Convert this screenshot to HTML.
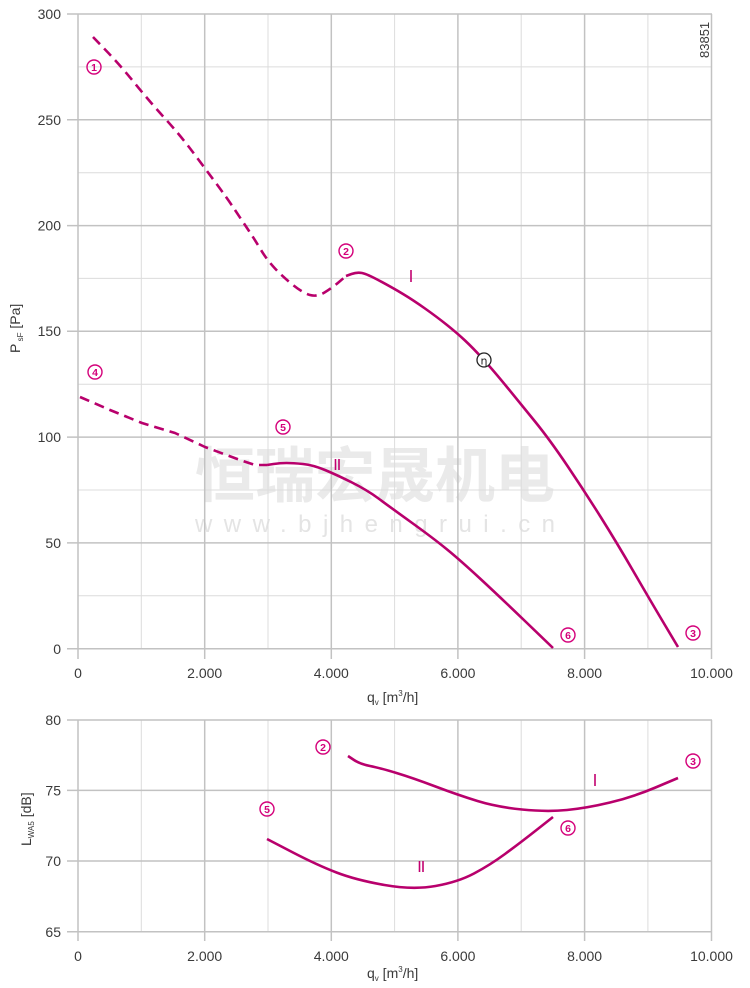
<!DOCTYPE html>
<html><head><meta charset="utf-8"><style>
html,body{margin:0;padding:0;background:#fff;}
svg{display:block;}
text{font-family:"Liberation Sans",Arial,sans-serif;}
</style></head><body>
<svg width="750" height="988" viewBox="0 0 750 988" xmlns="http://www.w3.org/2000/svg">
<!-- watermark -->
<g fill="#eaeaea">
<text x="375" y="497" text-anchor="middle" font-size="60" font-weight="bold" style='font-family:"Liberation Sans","Noto Sans CJK SC",sans-serif' textLength="360" lengthAdjust="spacingAndGlyphs">恒瑞宏晟机电</text>
<text x="375" y="532" text-anchor="middle" font-size="24" fill="#e4e4e4" textLength="360" lengthAdjust="spacing">www.bjhengrui.cn</text>
</g>
<!-- TOP CHART GRID -->
<g stroke="#dcdcdc" stroke-width="1">
<line x1="141.3" y1="14" x2="141.3" y2="649"/>
<line x1="268" y1="14" x2="268" y2="649"/>
<line x1="394.6" y1="14" x2="394.6" y2="649"/>
<line x1="521.2" y1="14" x2="521.2" y2="649"/>
<line x1="647.9" y1="14" x2="647.9" y2="649"/>
<line x1="78" y1="66.9" x2="712" y2="66.9"/>
<line x1="78" y1="172.7" x2="712" y2="172.7"/>
<line x1="78" y1="278.4" x2="712" y2="278.4"/>
<line x1="78" y1="384.2" x2="712" y2="384.2"/>
<line x1="78" y1="490" x2="712" y2="490"/>
<line x1="78" y1="595.8" x2="712" y2="595.8"/>
</g>
<g stroke="#c2c2c2" stroke-width="1.5">
<line x1="204.7" y1="14" x2="204.7" y2="649"/>
<line x1="331.3" y1="14" x2="331.3" y2="649"/>
<line x1="457.9" y1="14" x2="457.9" y2="649"/>
<line x1="584.6" y1="14" x2="584.6" y2="649"/>
<line x1="711.5" y1="14" x2="711.5" y2="649"/>
<line x1="67" y1="14" x2="712" y2="14"/>
<line x1="67" y1="119.8" x2="712" y2="119.8"/>
<line x1="67" y1="225.6" x2="712" y2="225.6"/>
<line x1="67" y1="331.3" x2="712" y2="331.3"/>
<line x1="67" y1="437.1" x2="712" y2="437.1"/>
<line x1="67" y1="542.9" x2="712" y2="542.9"/>
<line x1="67" y1="648.7" x2="712" y2="648.7"/>
<line x1="78" y1="14" x2="78" y2="659"/>
<line x1="204.7" y1="649" x2="204.7" y2="659"/>
<line x1="331.3" y1="649" x2="331.3" y2="659"/>
<line x1="457.9" y1="649" x2="457.9" y2="659"/>
<line x1="584.6" y1="649" x2="584.6" y2="659"/>
<line x1="711.5" y1="649" x2="711.5" y2="659"/>
</g>
<!-- top y labels -->
<g font-size="14" fill="#3a3a3a" text-anchor="end">
<text x="61" y="19">300</text>
<text x="61" y="125">250</text>
<text x="61" y="230.5">200</text>
<text x="61" y="336">150</text>
<text x="61" y="442">100</text>
<text x="61" y="548">50</text>
<text x="61" y="654">0</text>
</g>
<g font-size="14" fill="#3a3a3a" text-anchor="middle">
<text x="78" y="678">0</text>
<text x="204.7" y="678">2.000</text>
<text x="331.3" y="678">4.000</text>
<text x="457.9" y="678">6.000</text>
<text x="584.6" y="678">8.000</text>
<text x="711.5" y="678">10.000</text>
</g>
<text x="367" y="702" font-size="14" fill="#3a3a3a">q<tspan font-size="8" dy="3">v</tspan><tspan dy="-3"> [m</tspan><tspan font-size="8" dy="-6">3</tspan><tspan dy="6">/h]</tspan></text>
<text transform="translate(20,353) rotate(-90)" font-size="14" fill="#3a3a3a">P<tspan font-size="8" dy="3"> sF</tspan><tspan dy="-3"> [Pa]</tspan></text>
<text transform="translate(709,58) rotate(-90)" font-size="13" fill="#3a3a3a">83851</text>

<!-- top curves -->
<g fill="none" stroke="#b8006c" stroke-width="2.6" stroke-linecap="butt" stroke-linejoin="round">
<path stroke-dasharray="10,6" d="M93,37 L106.5,51 Q120,65 135,83.5 Q150,102 165,118.5 Q180,135 192,151 Q204,167 215.5,182.5 Q227,198 235,210 Q243,222 249,231 Q255,240 261,250 Q267,260 275,268.5 Q283,277 293,285 Q303,293 310,295 Q317,297 324.5,292.5 Q332,288 339,282 L346,276"/>
<path d="M346,276 L351.5,274 Q357,272 362,273 Q367,274 380,281 Q393,288 403,294 Q413,300 425,308.5 Q437,317 447,325 Q457,333 465,340.5 Q473,348 483,359 Q493,370 506.5,386.5 Q520,403 535,421.5 Q550,440 567.5,466 Q585,492 601,517.5 Q617,543 633.5,571.5 Q650,600 664,623.5 L678,647"/>
<polyline stroke-dasharray="10,6" points="80,397 110,410 142,423 175,433 205,447 240,460 255,465 267,465"/>
<path d="M267,465 L273.5,464 Q280,463 286.5,463 Q293,463 303,464 Q313,465 325,470 Q337,475 352,482.5 Q367,490 378.5,498.5 Q390,507 411.5,522.5 Q433,538 446.5,549 Q460,560 480,578.5 Q500,597 526.5,622.5 L553,648"/>
</g>
<circle cx="484" cy="360" r="7" fill="#fff" stroke="#222" stroke-width="1.3"/>
<text x="484" y="364.5" font-size="11" fill="#222" text-anchor="middle" style='font-family:"DejaVu Sans",sans-serif'>η</text>

<g fill="none" stroke="#d4007a" stroke-width="1.4">
<circle cx="94" cy="67" r="7"/>
<circle cx="346" cy="251" r="7"/>
<circle cx="693" cy="633" r="7"/>
<circle cx="95" cy="372" r="7"/>
<circle cx="283" cy="427" r="7"/>
<circle cx="568" cy="635" r="7"/>
</g>
<g font-size="10.5" font-weight="bold" fill="#d4007a" text-anchor="middle">
<text x="94" y="70.8">1</text>
<text x="346" y="254.8">2</text>
<text x="693" y="636.8">3</text>
<text x="95" y="375.8">4</text>
<text x="283" y="430.8">5</text>
<text x="568" y="638.8">6</text>
</g>
<g stroke="#c2006f" stroke-width="1.6">
<line x1="411" y1="270" x2="411" y2="282"/>
<line x1="335.5" y1="459" x2="335.5" y2="470"/>
<line x1="339" y1="459" x2="339" y2="470"/>
</g>

<!-- BOTTOM CHART GRID -->
<g stroke="#dcdcdc" stroke-width="1">
<line x1="141.3" y1="720" x2="141.3" y2="932"/>
<line x1="268" y1="720" x2="268" y2="932"/>
<line x1="394.6" y1="720" x2="394.6" y2="932"/>
<line x1="521.2" y1="720" x2="521.2" y2="932"/>
<line x1="647.9" y1="720" x2="647.9" y2="932"/>
</g>
<g stroke="#c2c2c2" stroke-width="1.5">
<line x1="204.7" y1="720" x2="204.7" y2="932"/>
<line x1="331.3" y1="720" x2="331.3" y2="932"/>
<line x1="457.9" y1="720" x2="457.9" y2="932"/>
<line x1="584.6" y1="720" x2="584.6" y2="932"/>
<line x1="711.5" y1="720" x2="711.5" y2="932"/>
<line x1="67" y1="720" x2="712" y2="720"/>
<line x1="67" y1="790.4" x2="712" y2="790.4"/>
<line x1="67" y1="861" x2="712" y2="861"/>
<line x1="67" y1="931.7" x2="712" y2="931.7"/>
<line x1="78" y1="720" x2="78" y2="941"/>
<line x1="204.7" y1="932" x2="204.7" y2="941"/>
<line x1="331.3" y1="932" x2="331.3" y2="941"/>
<line x1="457.9" y1="932" x2="457.9" y2="941"/>
<line x1="584.6" y1="932" x2="584.6" y2="941"/>
<line x1="711.5" y1="932" x2="711.5" y2="941"/>
</g>
<g font-size="14" fill="#3a3a3a" text-anchor="end">
<text x="61" y="725">80</text>
<text x="61" y="795.5">75</text>
<text x="61" y="866">70</text>
<text x="61" y="937">65</text>
</g>
<g font-size="14" fill="#3a3a3a" text-anchor="middle">
<text x="78" y="961">0</text>
<text x="204.7" y="961">2.000</text>
<text x="331.3" y="961">4.000</text>
<text x="457.9" y="961">6.000</text>
<text x="584.6" y="961">8.000</text>
<text x="711.5" y="961">10.000</text>
</g>
<text x="367" y="978" font-size="14" fill="#3a3a3a">q<tspan font-size="8" dy="3">v</tspan><tspan dy="-3"> [m</tspan><tspan font-size="8" dy="-6">3</tspan><tspan dy="6">/h]</tspan></text>
<text transform="translate(31,846) rotate(-90)" font-size="14" fill="#3a3a3a">L<tspan font-size="8" dy="3">WA5</tspan><tspan dy="-3"> [dB]</tspan></text>

<g fill="none" stroke="#b8006c" stroke-width="2.6" stroke-linejoin="round">
<path d="M348,756 L354,760 Q360,764 370,766 Q380,768 396.5,773 Q413,778 435.5,786.5 Q458,795 477.5,801 Q497,807 522,809.5 Q547,812 567,810 Q587,808 610,802.5 Q633,797 655.5,787.5 L678,778"/>
<path d="M267,839 L292,852 Q317,865 336.5,872.5 Q356,880 384.5,885 Q413,890 435.5,886 Q458,882 474,873.5 Q490,865 505,854 Q520,843 536.5,830 L553,817"/>
</g>
<g fill="none" stroke="#d4007a" stroke-width="1.4">
<circle cx="323" cy="747" r="7"/>
<circle cx="267" cy="809" r="7"/>
<circle cx="693" cy="761" r="7"/>
<circle cx="568" cy="828" r="7"/>
</g>
<g font-size="10.5" font-weight="bold" fill="#d4007a" text-anchor="middle">
<text x="323" y="750.8">2</text>
<text x="267" y="812.8">5</text>
<text x="693" y="764.8">3</text>
<text x="568" y="831.8">6</text>
</g>
<g stroke="#c2006f" stroke-width="1.6">
<line x1="595" y1="774" x2="595" y2="786"/>
<line x1="419.5" y1="861" x2="419.5" y2="872"/>
<line x1="423" y1="861" x2="423" y2="872"/>
</g>
</svg>
</body></html>
